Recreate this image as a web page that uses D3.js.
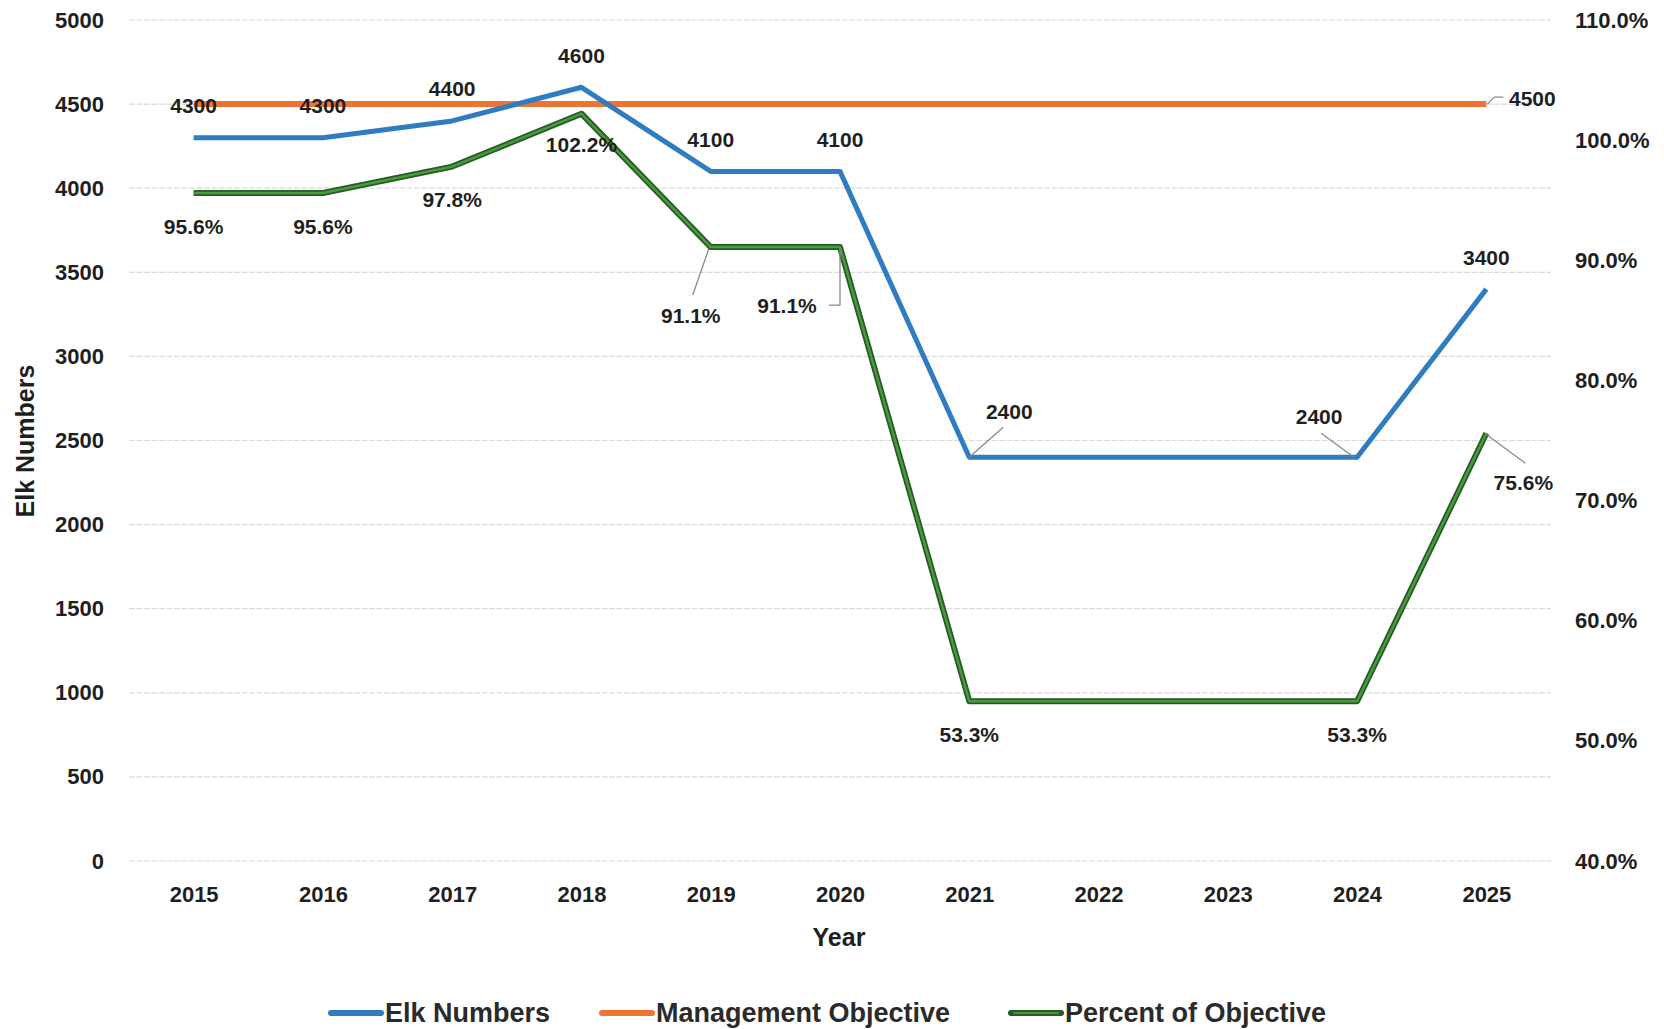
<!DOCTYPE html>
<html>
<head>
<meta charset="utf-8">
<script src="https://cdn.jsdelivr.net/npm/d3@7"></script>
<style>
  html, body { margin: 0; padding: 0; background: #ffffff; }
  svg { display: block; font-family: "Liberation Sans", Arial, sans-serif; }
</style>
</head>
<body>
<svg id="chart" width="1664" height="1029"></svg>
<script>
// Elk herd counts against the management objective, 2015–2025
const years = ["2015","2016","2017","2018","2019","2020","2021","2022","2023","2024","2025"];
const elkNumbers = [4300, 4300, 4400, 4600, 4100, 4100, 2400, 2400, 2400, 2400, 3400];
const managementObjective = [4500, 4500, 4500, 4500, 4500, 4500, 4500, 4500, 4500, 4500, 4500];
const percentOfObjective = [95.6, 95.6, 97.8, 102.2, 91.1, 91.1, 53.3, 53.3, 53.3, 53.3, 75.6];
const leftTicks = [0, 500, 1000, 1500, 2000, 2500, 3000, 3500, 4000, 4500, 5000];
const rightTicks = [40, 50, 60, 70, 80, 90, 100, 110];
const seriesNames = ["Elk Numbers", "Management Objective", "Percent of Objective"];

// which points carry a value label
const elkLabelled = [0,1,2,3,4,5,6,9,10];
const pctLabelled = [0,1,2,3,4,5,6,9,10];
const mgmtLabelled = [10];

const svg = d3.select("#chart");
const plot = { left: 129, right: 1551, top: 20, bottom: 861 };

const x = d3.scalePoint().domain(years).range([plot.left, plot.right]).padding(0.5);
const yLeft = d3.scaleLinear().domain([0, 5000]).range([plot.bottom, plot.top]);
const yRight = d3.scaleLinear().domain([40, 110]).range([plot.bottom, plot.top]);

const colors = { elk: "#2f7cc0", mgmt: "#ee7434", pctDark: "#255d25", pctLight: "#4c9a3e", text: "#1f1f1f", grid: "#dadada", leader: "#8a8a8a" };

// gridlines
svg.append("g").selectAll("line").data(leftTicks).join("line")
  .attr("x1", plot.left).attr("x2", plot.right)
  .attr("y1", d => yLeft(d)).attr("y2", d => yLeft(d))
  .attr("stroke", colors.grid).attr("stroke-width", 1.2)
  .attr("stroke-dasharray", "6,1.5");

const tickFont = 22;

// left axis
const axL = svg.append("g").attr("transform", `translate(${plot.left - 25},0)`)
  .call(d3.axisLeft(yLeft).tickValues(leftTicks).tickSize(0).tickPadding(0).tickFormat(d3.format("d")));
axL.select(".domain").remove();
axL.selectAll("text").attr("font-size", tickFont).attr("font-weight", "bold").attr("fill", colors.text)
  .attr("font-family", "'Liberation Sans', Arial, sans-serif");

// right axis
const axR = svg.append("g").attr("transform", `translate(${plot.right + 24},0)`)
  .call(d3.axisRight(yRight).tickValues(rightTicks).tickSize(0).tickPadding(0).tickFormat(d => d3.format(".1f")(d) + "%"));
axR.select(".domain").remove();
axR.selectAll("text").attr("font-size", tickFont).attr("font-weight", "bold").attr("fill", colors.text)
  .attr("font-family", "'Liberation Sans', Arial, sans-serif");

// bottom axis
const axB = svg.append("g").attr("transform", `translate(0,${plot.bottom + 33})`)
  .call(d3.axisBottom(x).tickSize(0).tickPadding(0));
axB.select(".domain").remove();
axB.selectAll("text").attr("font-size", tickFont).attr("font-weight", "bold").attr("fill", colors.text)
  .attr("dy", "0.35em").attr("font-family", "'Liberation Sans', Arial, sans-serif");

// axis titles
svg.append("text").attr("transform", "translate(34,441) rotate(-90)")
  .attr("text-anchor", "middle").attr("font-size", 25).attr("font-weight", "bold")
  .attr("fill", colors.text).text("Elk Numbers");
svg.append("text").attr("x", 839).attr("y", 946)
  .attr("text-anchor", "middle").attr("font-size", 25).attr("font-weight", "bold")
  .attr("fill", colors.text).text("Year");

// series lines
const lineL = d3.line().x((d, i) => x(years[i])).y(d => yLeft(d));
const lineR = d3.line().x((d, i) => x(years[i])).y(d => yRight(d));

svg.append("path").datum(managementObjective).attr("d", lineL)
  .attr("fill", "none").attr("stroke", colors.mgmt).attr("stroke-width", 6);
svg.append("path").datum(elkNumbers).attr("d", lineL)
  .attr("fill", "none").attr("stroke", colors.elk).attr("stroke-width", 5).attr("stroke-linejoin", "round");
svg.append("path").datum(percentOfObjective).attr("d", lineR)
  .attr("fill", "none").attr("stroke", colors.pctDark).attr("stroke-width", 6).attr("stroke-linejoin", "round");
svg.append("path").datum(percentOfObjective).attr("d", lineR)
  .attr("fill", "none").attr("stroke", colors.pctLight).attr("stroke-width", 2.4).attr("stroke-linejoin", "round");

// label offsets from their points, plus optional leader paths (relative)
const elkPlace = {
  default: { dx: 0, dy: -32 },
  6: { dx: 40, dy: -46, leader: [[0, 0], [34, -30]] },
  9: { dx: -38, dy: -41, leader: [[-3, 0], [-36, -24]] }
};
const pctPlace = {
  default: { dx: 0, dy: 33 },
  3: { dx: 0, dy: 31 },
  4: { dx: -20, dy: 68, leader: [[-2, 2], [-18, 48]] },
  5: { dx: -53, dy: 58, leader: [[0, 2], [0, 58], [-11, 58]] },
  10: { dx: 37, dy: 49, leader: [[1, 2], [39, 30]] }
};
const mgmtPlace = {
  default: { dx: 46, dy: -6, leader: [[1, 0], [8, -7], [17, -7]] }
};

const labels = svg.append("g");
function addLabels(idx, values, yScale, place, fmt) {
  idx.forEach(i => {
    const p = place[i] || place.default;
    const px = x(years[i]), py = yScale(values[i]);
    if (p.leader) {
      labels.append("path")
        .attr("d", d3.line()(p.leader.map(([a, b]) => [px + a, py + b])))
        .attr("fill", "none").attr("stroke", colors.leader).attr("stroke-width", 1.3);
    }
    labels.append("text").attr("x", px + p.dx).attr("y", py + p.dy)
      .attr("text-anchor", "middle").attr("dominant-baseline", "central")
      .attr("font-size", 21).attr("font-weight", "bold").attr("fill", colors.text)
      .text(fmt(values[i]));
  });
}
addLabels(elkLabelled, elkNumbers, yLeft, elkPlace, d => String(d));
addLabels(pctLabelled, percentOfObjective, yRight, pctPlace, d => d3.format(".1f")(d) + "%");
addLabels(mgmtLabelled, managementObjective, yLeft, mgmtPlace, d => String(d));

// legend
const legendItems = [
  { name: seriesNames[0], color: colors.elk, x: 331 },
  { name: seriesNames[1], color: colors.mgmt, x: 602 },
  { name: seriesNames[2], color: colors.pctDark, inner: colors.pctLight, x: 1011 }
];
const lg = svg.append("g").attr("transform", "translate(0,1013)");
legendItems.forEach(it => {
  lg.append("line").attr("x1", it.x).attr("x2", it.x + 50).attr("y1", 0).attr("y2", 0)
    .attr("stroke", it.color).attr("stroke-width", 6).attr("stroke-linecap", "round");
  if (it.inner) {
    lg.append("line").attr("x1", it.x + 2).attr("x2", it.x + 48).attr("y1", 0).attr("y2", 0)
      .attr("stroke", it.inner).attr("stroke-width", 2.2);
  }
  lg.append("text").attr("x", it.x + 54).attr("y", 0).attr("dominant-baseline", "central")
    .attr("font-size", 27).attr("font-weight", "bold").attr("fill", "#2a2a2a").text(it.name);
});
</script>
</body>
</html>
